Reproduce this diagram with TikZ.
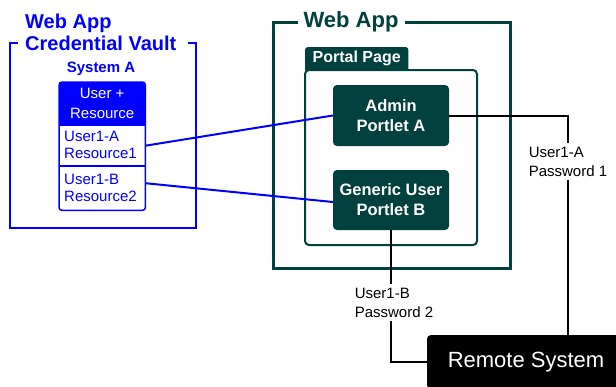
\documentclass[tikz,border=0pt]{standalone}
\usepackage{fontspec}
\setmainfont{Liberation Sans}
\definecolor{vblue}{RGB}{0,0,255}
\definecolor{appteal}{RGB}{0,64,62}
\begin{document}
\begin{tikzpicture}[x=1pt,y=-1pt,
  vaultline/.style={draw=vblue,line width=2pt},
  appline/.style={draw=appteal,line width=3pt},
  pageline/.style={draw=appteal,line width=2pt},
  cell/.style={minimum width=86pt,inner sep=0pt,anchor=north west},
  celltext/.style={anchor=west,align=left,inner sep=0pt,text=vblue,font=\fontsize{15}{16.5}\selectfont},
  portlet/.style={fill=appteal,rounded corners=4pt,minimum width=116pt,minimum height=60pt,text=white,align=center,font=\bfseries\fontsize{16.5}{20}\selectfont},
  pwlabel/.style={align=left,inner sep=4pt,font=\fontsize{15}{19}\selectfont},
  bluelink/.style={draw=vblue,line width=2pt},
  blacklink/.style={draw=black,line width=2pt}]
\clip (0,0) rectangle (616,386);
\fill[white] (0,0) rectangle (616,386);

% ---- Credential vault ----
\node[anchor=west,align=left,inner sep=0pt,text=vblue,font=\bfseries\fontsize{20}{22}\selectfont] (vtitle) at (25,32) {Web App\\Credential Vault};
\draw[vaultline] (18,43) -- (10,43) -- (10,228) -- (196,228) -- (196,43) -- (188,43);
\node[text=vblue,font=\bfseries\fontsize{15}{18}\selectfont,inner sep=0pt] (sysA) at (101,69) {System A};

\node[cell,minimum height=43pt] (hdr) at (59,82) {};
\node[cell,minimum height=41pt] (rowA) at (59,125) {};
\node[cell,minimum height=44pt] (rowB) at (59,166) {};
\fill[vblue] (hdr.south west) [rounded corners=3pt] -- (hdr.north west) -- (hdr.north east) [sharp corners] -- (hdr.south east) -- cycle;
\node[text=white,align=center,inner sep=0pt,font=\fontsize{15}{20}\selectfont] (hdrtext) at (hdr.center) {User +\\Resource};
\draw[vblue,line width=1.5pt,rounded corners=3pt] (hdr.north west) rectangle (rowB.south east);
\draw[vblue,line width=1.5pt] (rowA.north west) -- (rowA.north east);
\draw[vblue,line width=1.5pt] (rowB.north west) -- (rowB.north east);
\node[celltext] (rowAtext) at (64,145) {User1-A\\Resource1};
\node[celltext] (rowBtext) at (64,188) {User1-B\\Resource2};

% ---- Web App ----
\node[text=appteal,font=\bfseries\fontsize{22}{24}\selectfont,inner sep=0pt] (atitle) at (351,22) {Web App};
\draw[appline] (298,22) -- (273,22) -- (273,268) -- (510,268) -- (510,22) -- (405,22);

\draw[pageline,rounded corners=4pt] (305,70) rectangle (477,245);
\node[anchor=north west,minimum width=103pt,minimum height=23pt,inner sep=0pt] (tab) at (305,47) {};
\fill[appteal] (tab.south west) [rounded corners=3pt] -- (tab.north west) -- (tab.north east) [sharp corners] -- (tab.south east) -- cycle;
\node[text=white,font=\bfseries\fontsize{16}{18}\selectfont,inner sep=0pt] (tabtext) at (tab.center) {Portal Page};

\node[portlet,minimum height=61pt] (admin) at (391,115.5) {Admin\\Portlet A};
\node[portlet] (generic) at (391,200) {Generic User\\Portlet B};

% ---- Remote system ----
\node[fill=black,rounded corners=4pt,minimum width=198pt,minimum height=54pt,text=white,font=\fontsize{22}{24}\selectfont] (remote) at (526,362) {Remote System};

% ---- labels ----
\node[pwlabel] (pwA) at (568,161.5) {User1-A\\Password 1};
\node[pwlabel] (pwB) at (394,302.5) {User1-B\\Password 2};

% ---- connectors ----
\draw[bluelink] (rowA.east) -- (admin.west);
\draw[bluelink] ([yshift=5pt]rowB.east) -- ([yshift=-2pt]generic.west);
\draw[blacklink] (admin.east) -| (pwA.north);
\draw[blacklink] (pwA.south) -- (pwA.south |- remote.north);
\draw[blacklink] (generic.south) -- (generic.south |- pwB.north);
\draw[blacklink] (generic.south |- pwB.south) |- (remote.west);
\end{tikzpicture}
\end{document}
